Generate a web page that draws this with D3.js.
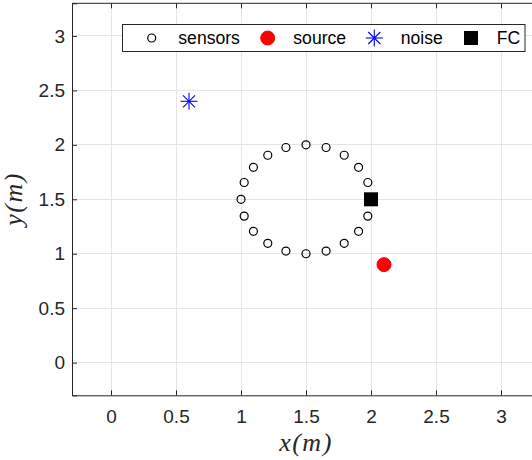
<!DOCTYPE html>
<html><head><meta charset="utf-8">
<script src="https://cdn.jsdelivr.net/npm/d3@7"></script>
<style>body{margin:0;background:#fff}svg{display:block}</style>
</head><body>
<script>
const sensorX = [2.0,1.9755,1.9045,1.7939,1.6545,1.5,1.3455,1.2061,1.0955,1.0245,1.0,1.0245,1.0955,1.2061,1.3455,1.5,1.6545,1.7939,1.9045,1.9755];
const sensorY = [1.5,1.6545,1.7939,1.9045,1.9755,2.0,1.9755,1.9045,1.7939,1.6545,1.5,1.3455,1.2061,1.0955,1.0245,1.0,1.0245,1.0955,1.2061,1.3455];
const sourcePt = [2.1, 0.9];
const noisePt = [0.6, 2.4];
const fcPt = [2.0, 1.5];
const xTicks = [0,0.5,1,1.5,2,2.5,3];
const yTicks = [0,0.5,1,1.5,2,2.5,3];
const legendLabels = ["sensors","source","noise","FC"];

const W=532,H=460;
const svg=d3.select("body").append("svg").attr("width",W).attr("height",H);
const x=d3.scaleLinear().domain([-0.3,3.3]).range([72,540]);
const y=d3.scaleLinear().domain([-0.3,3.3]).range([395.3,3.3]);
const axc="#262626", gridc="#e5e5e5";
const font="'Liberation Sans', Arial, Helvetica, sans-serif";
const serif="'Liberation Serif','DejaVu Serif',serif";

// grid
svg.append("g").selectAll("line").data(xTicks).join("line")
  .attr("x1",d=>x(d)).attr("x2",d=>x(d)).attr("y1",y(-0.3)).attr("y2",y(3.3))
  .attr("stroke",gridc).attr("stroke-width",1).attr("shape-rendering","crispEdges");
svg.append("g").selectAll("line").data(yTicks).join("line")
  .attr("x1",x(-0.3)).attr("x2",W).attr("y1",d=>y(d)).attr("y2",d=>y(d))
  .attr("stroke",gridc).attr("stroke-width",1).attr("shape-rendering","crispEdges");

// axes
const xb=svg.append("g").attr("transform",`translate(0,${y(-0.3)})`)
  .call(d3.axisBottom(x).tickValues(xTicks).tickSize(-5).tickPadding(14).tickFormat(d3.format("")));
const xt=svg.append("g").attr("transform",`translate(0,${y(3.3)})`)
  .call(d3.axisTop(x).tickValues(xTicks).tickSize(-5).tickFormat(""));
const yl=svg.append("g").attr("transform",`translate(${x(-0.3)},0)`)
  .call(d3.axisLeft(y).tickValues(yTicks).tickSize(-5).tickPadding(7).tickFormat(d3.format("")));
[xb,xt,yl].forEach(g=>{
  g.select(".domain").attr("stroke",axc).attr("stroke-width",1);
  g.selectAll(".tick line").attr("stroke",axc);
  g.selectAll("text").attr("fill",axc).attr("font-family",font).attr("font-size",19);
});
xt.select(".domain").attr("d",`M${x(-0.3)},0H${W}`);

// axis titles
svg.append("text").attr("x",306).attr("y",451).attr("text-anchor","middle")
  .attr("font-family",serif).attr("font-style","italic").attr("letter-spacing",1.5)
  .attr("font-size",26).attr("fill",axc).text("x(m)");
svg.append("text").attr("transform","translate(22,199) rotate(-90)").attr("text-anchor","middle")
  .attr("font-family",serif).attr("font-style","italic").attr("letter-spacing",1.5)
  .attr("font-size",26).attr("fill",axc).text("y(m)");

// markers
function asterisk(g,cx,cy,r,color){
  [0,45,90,135].forEach(t=>{const rad=t*Math.PI/180;
    g.append("line").attr("x1",cx-r*Math.cos(rad)).attr("y1",cy-r*Math.sin(rad))
      .attr("x2",cx+r*Math.cos(rad)).attr("y2",cy+r*Math.sin(rad))
      .attr("stroke",color).attr("stroke-width",1.1);});
}
const pts=sensorX.map((v,i)=>[v,sensorY[i]]);
svg.append("g").selectAll("circle").data(pts).join("circle")
  .attr("cx",d=>x(d[0])).attr("cy",d=>y(d[1])).attr("r",4)
  .attr("fill","none").attr("stroke","#000").attr("stroke-width",1.2);
svg.append("circle").attr("cx",x(sourcePt[0])).attr("cy",y(sourcePt[1])).attr("r",7)
  .attr("fill","#ff0000").attr("stroke","#ff0000");
asterisk(svg,x(noisePt[0]),y(noisePt[1]),8.5,"#0000ff");
svg.append("rect").attr("x",x(fcPt[0])-7).attr("y",y(fcPt[1])-7).attr("width",14).attr("height",14)
  .attr("fill","#000");

// legend
const lg=svg.append("g");
lg.append("rect").attr("x",122.5).attr("y",24.5).attr("width",402.5).attr("height",27)
  .attr("fill","#fff").attr("stroke",axc).attr("stroke-width",1);
const ly=38;
lg.append("circle").attr("cx",151.7).attr("cy",ly).attr("r",4).attr("fill","none").attr("stroke","#000").attr("stroke-width",1.2);
lg.append("circle").attr("cx",267.7).attr("cy",ly).attr("r",7).attr("fill","#ff0000").attr("stroke","#ff0000");
asterisk(lg,374.3,ly,8.5,"#0000ff");
lg.append("rect").attr("x",471-7).attr("y",ly-7).attr("width",14).attr("height",14).attr("fill","#000");
const lx=[178.3,293.3,400.7,496.7];
lg.selectAll("text").data(legendLabels).join("text")
  .attr("x",(d,i)=>lx[i]).attr("y",ly+6.3).attr("font-family",font).attr("font-size",17.6)
  .attr("fill","#000").text(d=>d);
</script>
</body></html>
